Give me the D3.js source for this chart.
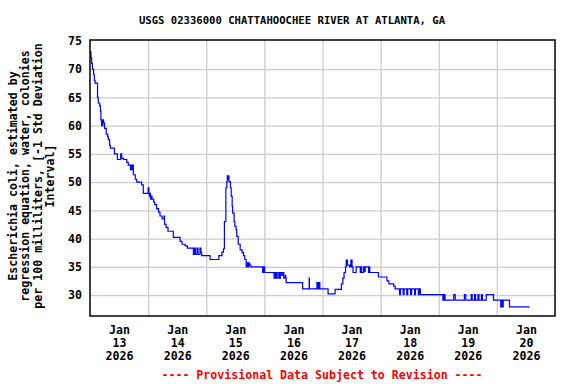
<!DOCTYPE html>
<html>
<head>
<meta charset="utf-8">
<script src="https://cdn.jsdelivr.net/npm/d3@7"></script>
<style>
  body { margin: 0; background: #fff; }
  svg { display: block; }
  text { font-family: "DejaVu Sans Mono", "Liberation Mono", monospace; font-weight: bold; }
</style>
</head>
<body>
<script>
const TITLE = 'USGS 02336000 CHATTAHOOCHEE RIVER AT ATLANTA, GA';
const Y_LABEL = ['Escherichia coli, estimated by', 'regression equation, water, colonies',
                 'per 100 milliliters, [-1 Std Deviation', 'Interval]'];
const FOOTNOTE = '---- Provisional Data Subject to Revision ----';

// hours after Jan 13 2026 00:00 where the value steps, and the new value
const stepHours = [
  0, 0.4, 0.7, 1.0, 1.5, 1.8, 2.1, 3.1, 3.4, 4.0, 4.3, 4.5, 4.8, 5.3, 5.6, 6.0, 6.7, 7.3, 7.6, 8.1,
  8.4, 10.1, 11.3, 12.7, 13.1, 13.9, 15.2, 15.8, 16.7, 17.2, 17.4, 17.6, 17.9, 18.7, 19.3, 21.3, 22.0,
  24.0, 24.3, 24.5, 24.8, 25.0, 25.3, 25.6, 26.3, 26.7, 27.5, 28.3, 28.9, 29.8, 30.6, 30.8, 31.4, 32.2,
  34.4, 37.2, 38.0, 39.3, 40.2, 42.7, 43.1, 43.5, 44.2, 44.6, 45.4, 45.8, 46.1,
  49.6, 53.2, 54.5, 55.1, 55.5, 56.1, 56.5, 56.7, 57.0, 57.2, 57.4, 58.0, 58.3, 58.7, 58.9, 59.5,
  59.8, 60.3, 60.6, 61.2, 62.0, 62.8, 63.4, 63.9, 64.5, 64.8, 65.2, 65.6, 65.9, 66.4,
  71.3, 71.7, 72.1, 72.5, 76.0, 76.5, 77.0, 77.6, 78.2, 78.6, 79.2, 79.6, 80.0,
  80.6, 80.8, 81.0, 87.8, 90.5, 90.6, 93.7, 94.1, 94.5, 94.9, 98.3, 101.2, 103.8, 104.4, 104.9,
  105.5, 105.8, 106.3, 107.2, 107.7, 108.2, 108.6, 109.9, 111.6, 111.9, 112.2, 113.0, 113.3, 113.6,
  115.0, 115.2, 115.5, 119.1, 122.6, 123.4, 125.4, 126.0,
  127.8, 128.2, 129.3, 129.7, 130.8, 131.2, 132.4, 132.8, 134.0, 134.4, 135.6, 136.0, 136.4,
  145.7, 146.2, 146.6, 150.2, 150.8, 154.6, 155.2,
  157.4, 157.8, 158.8, 159.2, 160.2, 160.6, 161.6, 162.0,
  163.6, 166.6, 169.6, 169.9, 170.3, 170.6, 173.2, 181.5
];
const ecoli = [
  73, 72, 71, 70, 69, 68, 67.5, 65, 64, 63.5, 62.5, 61, 60, 61, 60.5, 59.5, 58.5, 58, 57.5, 56.5,
  56, 55, 54, 55, 54.2, 54, 53.5, 53, 52.2, 53, 52.2, 53, 51.3, 50.5, 50, 49.5, 48,
  49, 48, 47.5, 48, 47, 47.5, 47, 46.5, 46, 45.3, 44.7, 44, 43.5, 44, 42.5, 42, 41.3,
  40.2, 39.5, 39, 38.7, 38.3, 37.2, 38.3, 37.2, 38.3, 37.2, 38.3, 37.5, 37,
  36.3, 37, 37.6, 38.2, 43, 49, 50.1, 51.1, 50.5, 51.1, 50.1, 49, 47.5, 45.7, 44.5, 43,
  42.2, 41.6, 40.4, 39, 38, 37.5, 37, 36.3, 35, 35.7, 35, 35.7, 35.3, 35,
  34, 35, 34, 34, 33, 34, 33, 34, 33, 34, 33.5, 34, 33,
  33.5, 33, 32.2, 31.1, 33, 31.1, 32.2, 31.1, 32.2, 31.1, 30.2, 31, 32, 33, 34,
  35, 36.2, 35.3, 35, 36.2, 35, 34, 35, 34, 35, 34, 35, 34.2, 35,
  34, 35, 34, 33.2, 32.5, 32, 31.6, 31.1,
  30.1, 31.1, 30.1, 31.1, 30.1, 31.1, 30.1, 31.1, 30.1, 31.1, 30.1, 31.1, 30.1,
  29.1, 30.1, 29.1, 30.1, 29.1, 30.1, 29.1,
  30.1, 29.1, 30.1, 29.1, 30.1, 29.1, 30.1, 29.1,
  30.1, 29.1, 27.9, 29.1, 27.9, 29.1, 27.9, 27.9
];

const yTicks = [30, 35, 40, 45, 50, 55, 60, 65, 70, 75];
const tickDays = [13, 14, 15, 16, 17, 18, 19, 20];
const tickMonth = 'Jan';
const tickYear = '2026';

const WIDTH = 576;
const HEIGHT = 384;
const M = { left: 90, right: 21, top: 40, bottom: 68 };
const FONT = 11.6;

const start = Date.UTC(2026, 0, 13);
const data = stepHours.map((h, i) => ({ date: new Date(start + h * 3600e3), value: ecoli[i] }));

const svg = d3.select('body').append('svg')
  .attr('width', WIDTH)
  .attr('height', HEIGHT);

const x = d3.scaleUtc()
  .domain([new Date(start), new Date(Date.UTC(2026, 0, 21))])
  .range([M.left, WIDTH - M.right]);

const y = d3.scaleLinear()
  .domain([26.3, 75.15])
  .range([HEIGHT - M.bottom, M.top]);

// gridlines
const midnights = tickDays.slice(1).map(d => new Date(Date.UTC(2026, 0, d)));
svg.append('g')
  .attr('transform', `translate(0, ${HEIGHT - M.bottom})`)
  .call(d3.axisBottom(x).tickValues(midnights).tickSize(-(HEIGHT - M.bottom - M.top)).tickFormat(''))
  .call(g => g.select('.domain').remove())
  .call(g => g.selectAll('line').attr('stroke', '#cccccc').attr('stroke-width', 1.3));

svg.append('g')
  .attr('transform', `translate(${M.left}, 0)`)
  .call(d3.axisLeft(y).tickValues(yTicks.slice(0, -1)).tickSize(-(WIDTH - M.left - M.right)).tickFormat(''))
  .call(g => g.select('.domain').remove())
  .call(g => g.selectAll('line').attr('stroke', '#cccccc').attr('stroke-width', 1.3));

// data line
const line = d3.line()
  .x(d => x(d.date))
  .y(d => y(d.value))
  .curve(d3.curveStepAfter);

svg.append('path')
  .datum(data)
  .attr('fill', 'none')
  .attr('stroke', '#0000ff')
  .attr('stroke-width', 1.2)
  .attr('d', line);

// frame
svg.append('rect')
  .attr('x', M.left)
  .attr('y', M.top)
  .attr('width', WIDTH - M.left - M.right)
  .attr('height', HEIGHT - M.top - M.bottom)
  .attr('fill', 'none')
  .attr('stroke', '#000')
  .attr('stroke-width', 1.5);

// y tick labels
svg.append('g')
  .attr('transform', `translate(${M.left}, 0)`)
  .call(d3.axisLeft(y).tickValues(yTicks).tickSize(0).tickPadding(8))
  .call(g => g.select('.domain').remove())
  .call(g => g.selectAll('text')
    .attr('font-family', null)
    .attr('font-size', FONT)
    .attr('fill', '#000'));

// x tick labels, centred at noon of each day
const noons = tickDays.map(d => new Date(Date.UTC(2026, 0, d, 12)));
const xLabels = svg.append('g')
  .attr('transform', `translate(0, ${HEIGHT - M.bottom})`)
  .call(d3.axisBottom(x).tickValues(noons).tickSize(0).tickFormat(''))
  .call(g => g.select('.domain').remove());

xLabels.selectAll('.tick').append('text')
  .attr('text-anchor', 'middle')
  .attr('font-size', FONT)
  .attr('fill', '#000')
  .selectAll('tspan')
  .data((d, i) => [tickMonth, String(tickDays[i]), tickYear])
  .join('tspan')
    .attr('x', 0)
    .attr('y', (d, i) => 18 + i * 13)
    .text(d => d);

// title
svg.append('text')
  .attr('x', 292)
  .attr('y', 24)
  .attr('text-anchor', 'middle')
  .attr('font-size', 10.6)
  .text(TITLE);

// y label
svg.append('text')
  .attr('transform', `translate(0, 176) rotate(-90)`)
  .attr('text-anchor', 'middle')
  .attr('font-size', FONT)
  .selectAll('tspan')
  .data(Y_LABEL)
  .join('tspan')
    .attr('x', 0)
    .attr('y', (d, i) => 17 + i * 12.3)
    .text(d => d);

// footnote
svg.append('text')
  .attr('x', 322)
  .attr('y', 379)
  .attr('text-anchor', 'middle')
  .attr('font-size', FONT)
  .attr('fill', '#ff0000')
  .text(FOOTNOTE);
</script>
</body>
</html>
